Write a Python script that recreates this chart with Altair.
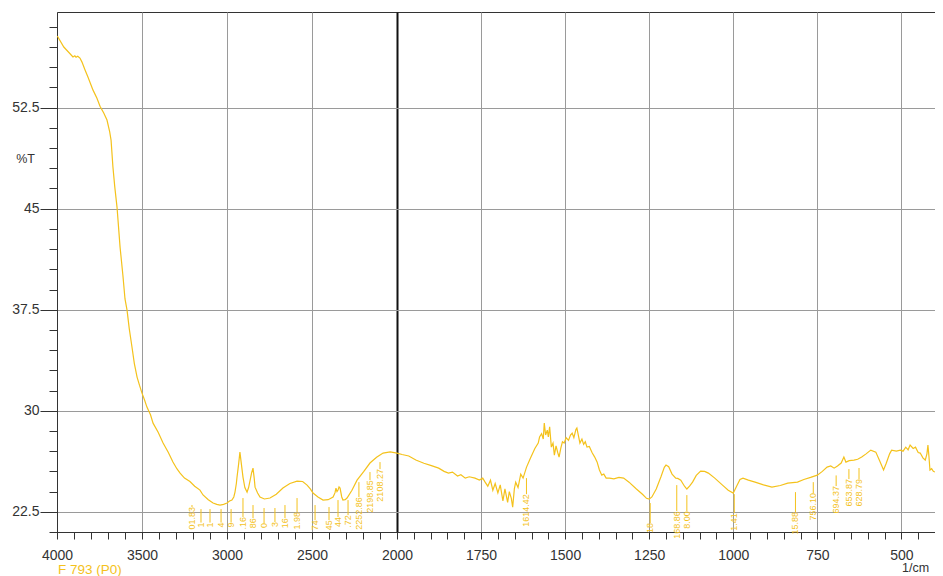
import altair as alt
import pandas as pd

# ---- spectrum (wavenumber 1/cm, %T) ----
wavenumber = [
    3998, 3960, 3906, 3895, 3888, 3878, 3865, 3853, 3835, 3818, 3788, 3765, 3747, 3725, 3706,
    3690, 3682, 3671, 3660, 3647, 3629, 3612, 3600, 3588, 3575, 3559, 3545, 3529, 3515, 3500,
    3485, 3471, 3450, 3435, 3405, 3376, 3345, 3318, 3295, 3276, 3250, 3218, 3190, 3159, 3141,
    3110, 3082, 3060, 3041, 3020, 3000, 2985, 2971, 2960, 2953, 2945, 2941, 2932, 2924, 2915,
    2906, 2895, 2882, 2873, 2865, 2855, 2847, 2840, 2835, 2820, 2806, 2780, 2747, 2710, 2671,
    2630, 2588, 2555, 2529, 2510, 2494, 2465, 2435, 2405, 2376, 2365, 2359, 2353, 2347, 2341,
    2335, 2325, 2318, 2305, 2294, 2265, 2235, 2195, 2159, 2120, 2082, 2040, 2000,
    1985, 1965, 1944, 1920, 1900, 1876, 1860, 1847, 1835, 1820, 1810, 1797, 1785, 1768, 1755,
    1745, 1738, 1730, 1722, 1715, 1708, 1700, 1693, 1685, 1679, 1671, 1666, 1660, 1656, 1651,
    1647, 1640, 1632, 1625, 1615, 1603, 1590, 1580, 1576, 1570, 1565, 1562, 1558, 1553, 1550,
    1546, 1541, 1536, 1532, 1527, 1522, 1518, 1513, 1508, 1503, 1497, 1490, 1484, 1479, 1474,
    1468, 1465, 1460, 1456, 1450, 1445, 1440, 1435, 1428, 1420, 1412, 1405, 1398, 1391, 1385,
    1378, 1368, 1355, 1340, 1326, 1310, 1288, 1270, 1258, 1250, 1242, 1229, 1215, 1205, 1200,
    1192, 1182, 1171, 1165, 1156, 1145, 1138, 1130, 1121, 1110, 1097, 1085, 1074, 1055, 1032,
    1015, 1000, 990, 980, 971, 955, 935, 910, 885, 860, 838, 809, 790, 770, 750,
    735, 721, 710, 700, 690, 679, 671, 665, 655, 641, 630, 618, 605, 591, 576,
    565, 553, 545, 535, 529, 515, 503, 495, 487, 480, 474, 465, 458, 450, 444,
    436, 429, 424, 421, 418, 415, 410, 405, 400,
]
transmittance = [
    57.82, 57.0, 56.26, 56.35, 56.24, 56.32, 56.18, 55.88, 55.3, 54.77, 53.80, 53.2, 52.61, 52.1, 51.58,
    50.7, 50.09, 48.09, 46.6, 45.12, 42.15, 40.0, 38.3, 37.47, 36.1, 34.73, 33.5, 32.50, 31.9, 31.31,
    30.8, 30.27, 29.7, 29.08, 28.4, 27.60, 26.9, 26.19, 25.7, 25.37, 25.0, 24.75, 24.4, 24.11, 23.75,
    23.4, 23.15, 23.05, 23.00, 23.05, 23.15, 23.3, 23.37, 23.6, 23.96, 24.6, 25.08, 26.0, 26.93, 26.0,
    25.08, 24.3, 23.96, 24.3, 24.78, 25.4, 25.74, 25.0, 24.33, 23.9, 23.59, 23.45, 23.52, 23.8, 24.26,
    24.6, 24.78, 24.75, 24.48, 24.2, 23.89, 23.6, 23.37, 23.4, 23.59, 23.9, 24.26, 24.0, 24.11, 24.35,
    24.26, 23.6, 23.37, 23.4, 23.52, 24.1, 24.85, 25.5, 26.12, 26.55, 26.86, 26.95, 26.86,
    26.75, 26.64, 26.34, 26.1, 25.95, 25.74, 25.5, 25.37, 25.45, 25.15, 25.25, 25.00, 25.1, 25.00, 24.85,
    25.0, 24.70, 24.4, 24.85, 24.1, 24.6, 23.9, 24.5, 23.3, 24.2, 23.2, 24.0, 23.5, 22.85, 24.2,
    24.7, 24.3, 25.3, 25.0, 25.8, 26.5, 27.2, 27.6, 28.05, 28.3, 27.9, 29.08, 28.2, 28.56, 28.05,
    28.8, 27.3, 27.6, 26.71, 27.4, 26.9, 26.56, 27.2, 27.7, 27.6, 28.0, 27.8, 28.2, 28.34, 28.0,
    28.6, 28.71, 28.1, 27.6, 27.9, 27.5, 27.7, 27.30, 27.35, 26.9, 26.56, 26.2, 25.6, 25.22, 25.3,
    25.0, 25.00, 24.95, 25.05, 25.0, 24.7, 24.19, 23.8, 23.5, 23.44, 23.6, 24.19, 25.1, 25.8, 25.97,
    25.85, 25.3, 25.0, 24.98, 24.85, 24.4, 24.19, 24.4, 24.70, 25.2, 25.52, 25.5, 25.37, 25.0, 24.48,
    24.1, 23.89, 24.4, 24.9, 25.0, 24.85, 24.7, 24.5, 24.33, 24.45, 24.63, 24.70, 24.9, 25.05, 25.22,
    25.5, 25.82, 25.9, 25.74, 25.9, 26.12, 26.56, 26.19, 26.3, 26.34, 26.4, 26.56, 26.8, 27.08, 26.93,
    26.3, 25.6, 26.1, 26.8, 27.08, 27.0, 27.08, 27.0, 27.3, 27.1, 27.45, 27.2, 27.3, 26.9, 26.86,
    26.5, 26.34, 26.8, 27.45, 26.6, 25.6, 25.7, 25.5, 25.45,
]

# ---- peak marker annotations (position, leader top / bottom in %T, visible text) ----
peak_wn = [3206, 3153, 3100, 3035, 2976, 2906, 2847, 2782, 2718, 2659, 2588, 2482, 2400, 2347,
           2288, 2224, 2159, 2100, 1615, 1247, 1168, 1138, 997, 815, 762, 694, 656, 626]
peak_top = [23.00, 22.70, 22.70, 22.70, 22.70, 23.52, 23.00, 22.78, 22.78, 23.00, 23.52, 23.00,
            22.85, 23.37, 23.37, 24.70, 25.45, 26.19, 25.00, 23.15, 24.48, 23.74, 23.81, 23.96,
            24.70, 25.20, 25.67, 25.75]
peak_bottom = [22.85, 21.70, 21.70, 21.70, 21.70, 22.11, 22.03, 21.66, 21.74, 22.03, 22.48, 21.88,
               21.88, 22.11, 22.25, 23.59, 24.85, 25.67, 23.81, 21.66, 22.55, 22.55, 22.40, 22.48,
               23.89, 24.41, 24.93, 24.93]
peak_text = ["01.83", "1", "1", "4", "9", ".16", "86", "0", "3", "16", "1.98", "74", "45", "44",
             ".72", "2252.86", "2198.85", "2108.27", "1614.42", "18", "168.86", "8.00", "1.41",
             "15.88", "756.10", "694.37", "653.87", "628.79"]

# ---- axis tick values ----
x_ticks = list(range(4000, 1999, -100)) + list(range(1950, 399, -50))
y_ticks = [21 + 1.5 * i for i in range(26)]

spec = pd.DataFrame({"wn": wavenumber, "T": transmittance})
peaks = pd.DataFrame({"wn": peak_wn, "top": peak_top, "bottom": peak_bottom, "label": peak_text})

GOLD = "#F4C21C"
FONT = "Liberation Sans"

xscale = alt.Scale(domain=[4000, 2000, 400], range=[0, 340, 878], zero=False, nice=False)
yscale = alt.Scale(domain=[21.0, 59.6], zero=False, nice=False)

major_x = "(datum.value >= 2000 && datum.value % 500 === 0) || (datum.value < 2000 && datum.value % 250 === 0)"
major_y = "datum.value % 7.5 === 0"

x_axis = alt.Axis(
    values=x_ticks, format="d",
    labelExpr=f"({major_x}) ? datum.label : ''",
    labelOverlap=False, labelFlush=False,
    labelFontSize=14, labelColor="#333", labelFont=FONT, labelPadding=9,
    tickSize=7, tickColor="#333", domainColor="#333",
    grid=True,
    gridOpacity={"condition": {"test": major_x, "value": 1}, "value": 0},
    gridColor={"condition": {"test": "datum.value === 2000", "value": "#111"}, "value": "#9a9a9a"},
    gridWidth={"condition": {"test": "datum.value === 2000", "value": 2}, "value": 1},
    title="1/cm", titleFont=FONT, titleFontSize=12.5, titleFontWeight="normal", titleColor="#333",
    titleX=858, titleY=35, titleAlign="center", titleBaseline="middle",
)
y_axis = alt.Axis(
    values=y_ticks, format=".1~f",
    labelExpr=f"({major_y}) ? datum.label : ''",
    labelOverlap=False, labelFlush=False,
    labelFontSize=14, labelColor="#333", labelFont=FONT, labelPadding=1,
    tickSize={"condition": {"test": major_y, "value": 17}, "value": 8},
    tickColor="#333", domainColor="#333",
    grid=True,
    gridOpacity={"condition": {"test": major_y, "value": 1}, "value": 0},
    gridColor="#9a9a9a",
    title="%T", titleFont=FONT, titleFontSize=12.5, titleFontWeight="normal", titleColor="#333",
    titleAngle=0, titleX=-32, titleY=146, titleAlign="center", titleBaseline="middle",
)

X = alt.X("wn:Q", scale=xscale, axis=x_axis)

line = alt.Chart(spec).mark_line(color=GOLD, strokeWidth=1.2).encode(
    x=X,
    y=alt.Y("T:Q", scale=yscale, axis=y_axis),
    order=alt.Order("wn:Q", sort="descending"),
)
leaders = alt.Chart(peaks).mark_rule(color=GOLD, strokeWidth=1).encode(
    x=X,
    y=alt.Y("top:Q", scale=yscale, axis=y_axis),
    y2="bottom:Q",
)
labels = alt.Chart(peaks).mark_text(
    color=GOLD, angle=270, align="right", baseline="middle", fontSize=9, font=FONT
).encode(
    x=X,
    y=alt.Y("bottom:Q", scale=yscale, axis=y_axis),
    text="label:N",
)

chart = alt.layer(line, leaders, labels).properties(
    width=878, height=520,
    background="white",
    autosize=alt.AutoSizeParams(type="none"),
    padding={"left": 49, "top": 4, "right": 0, "bottom": 44},
    title=alt.TitleParams("F 793 (P0)", orient="bottom", anchor="start", frame="group",
                          color=GOLD, fontSize=13.5, fontWeight="normal", font=FONT,
                          offset=0, dx=1, dy=-11),
).configure_view(stroke="#333", strokeWidth=1)

chart.save("out.html", embed_options={"renderer": "svg", "actions": False})
